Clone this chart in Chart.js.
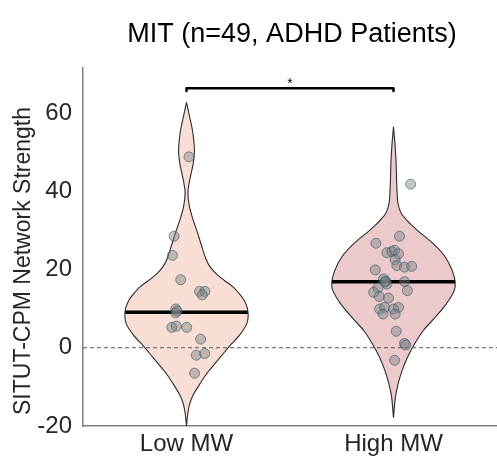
<!DOCTYPE html>
<html>
<head>
<meta charset="utf-8">
<script src="https://cdn.jsdelivr.net/npm/chart.js@4"></script>
<style>
  html, body { margin: 0; padding: 0; background: #ffffff; }
  #wrap { width: 497px; height: 458px; }
</style>
</head>
<body>
<div id="wrap"><canvas id="c" width="497" height="458"></canvas></div>
<script>
// ---------------- DATA ----------------
const categories = ['Low MW', 'High MW'];
const chartTitle = 'MIT (n=49, ADHD Patients)';
const yAxisTitle = 'SITUT-CPM Network Strength';
const yTickValues = [-20, 0, 20, 40, 60];

// individual subject values (y) and horizontal jitter (category units)
const lowValues  = [48.8, 28.5, 23.6, 17.4, 14.4, 14.4, 13.5, 9.9, 8.9, 5.2, 5.5, 5.2, 2.2, -1.9, -1.5, -6.5, 9.4];
const lowJitter  = [0.012, -0.060, -0.068, -0.028, 0.063, 0.089, 0.076, -0.052, -0.052, -0.071, -0.049, 0.001, 0.068, 0.047, 0.088, 0.039, -0.046];
const highValues = [41.8, 28.5, 26.7, 24.3, 24.6, 24.9, 24.0, 22.5, 21.0, 20.6, 20.8, 19.9, 17.6, 17.0, 16.3, 16.9,
                    15.3, 14.6, 14.2, 13.1, 12.7, 9.9, 10.3, 8.6, 9.9, 10.3, 8.6, 4.2, 1.1, 0.7, -3.2, 16.8];
const highJitter = [0.083, 0.029, -0.085, -0.032, -0.008, 0.005, 0.024, 0.008, 0.016, 0.053, 0.088, -0.088, -0.048, -0.037, -0.032, 0.053,
                    -0.075, 0.067, -0.096, -0.069, -0.024, -0.067, -0.043, -0.051, 0.000, 0.024, 0.008, 0.013, 0.053, 0.059, 0.005, -0.041];

// medians
const lowMedian = 9.1;
const highMedian = 16.9;

// violin outlines: levels (y values, top to bottom) and half-widths (category units)
const lowLevels = [62.7, 59.5, 56.1, 52.6, 49.7, 46.7, 43.3, 39.8, 36.4, 33.0, 29.6, 26.2, 22.7, 20.6, 18.9, 17.2, 15.5, 13.8,
                   12.1, 10.3, 8.2, 6.1, 3.5, 0.9, -1.6, -4.2, -6.7, -9.3, -11.9, -14.4, -17.0, -20.0];
const lowHalfWidths = [0, 0.013, 0.027, 0.036, 0.038, 0.031, 0.017, 0.007, 0.013, 0.030, 0.052, 0.072, 0.094, 0.115, 0.144, 0.183, 0.226, 0.255,
                   0.279, 0.293, 0.298, 0.291, 0.260, 0.216, 0.176, 0.135, 0.096, 0.064, 0.034, 0.015, 0.006, 0];
const highLevels = [56.5, 52.2, 47.9, 41.1, 36.8, 34.3, 31.7, 30.0, 26.6, 23.2, 19.7, 16.7, 14.6, 11.2, 7.8, 4.4, 0.9, -2.5, -5.9, -9.3, -12.7, -17.9];
const highHalfWidths = [0, 0.007, 0.012, 0.016, 0.022, 0.038, 0.080, 0.115, 0.192, 0.250, 0.284, 0.298, 0.293, 0.255, 0.202, 0.144, 0.101, 0.067, 0.041, 0.022, 0.009, 0];

// significance bracket
const bracketY = 66.3;
const bracketTickY = 65.6;
const bracketLabel = '*';

// ---------------- BUILD ----------------
function violinPath(center, levels, widths) {
  const pts = [];
  for (let i = 0; i < levels.length; i++) pts.push({x: center + widths[i], y: levels[i]});
  for (let i = levels.length - 1; i >= 0; i--) pts.push({x: center - widths[i], y: levels[i]});
  return pts;
}
function widthAt(levels, widths, v) {
  for (let i = 0; i < levels.length - 1; i++) {
    const a = levels[i], b = levels[i + 1];
    if ((v <= a && v >= b)) {
      const t = (a - v) / (a - b);
      return widths[i] + t * (widths[i + 1] - widths[i]);
    }
  }
  return 0;
}
function pointsFor(center, vals, jit) {
  return vals.map((v, i) => ({x: center + jit[i], y: v}));
}

const lowW = widthAt(lowLevels, lowHalfWidths, lowMedian);
const highW = widthAt(highLevels, highHalfWidths, highMedian);

const pointFill = 'rgba(128,128,128,0.45)';
const pointEdge = 'rgba(40,90,110,0.6)';

const datasets = [
  { // points
    data: pointsFor(1, lowValues, lowJitter).concat(pointsFor(2, highValues, highJitter)),
    showLine: false, pointRadius: 5, pointHoverRadius: 5,
    pointBackgroundColor: pointFill, pointBorderColor: pointEdge, pointBorderWidth: 1,
    order: 0
  },
  { data: [{x: 1 - lowW, y: lowMedian}, {x: 1 + lowW, y: lowMedian}],
    borderColor: '#000', borderWidth: 3.5, pointRadius: 0, fill: false, order: 1 },
  { data: [{x: 2 - highW, y: highMedian}, {x: 2 + highW, y: highMedian}],
    borderColor: '#000', borderWidth: 3.5, pointRadius: 0, fill: false, order: 1 },
  { // zero line
    data: [{x: 0.5, y: 0}, {x: 2.5, y: 0}],
    borderColor: '#555', borderWidth: 1, borderDash: [4, 3], pointRadius: 0, fill: false, order: 2 },
  { // bracket
    data: [{x: 1, y: bracketTickY}, {x: 1, y: bracketY}, {x: 2, y: bracketY}, {x: 2, y: bracketTickY}],
    borderColor: '#000', borderWidth: 2.5, pointRadius: 0, fill: false, order: 3,
    borderJoinStyle: 'round', borderCapStyle: 'round' },
  { // low violin
    data: violinPath(1, lowLevels, lowHalfWidths),
    borderColor: '#2b2b2b', borderWidth: 1.1, backgroundColor: 'rgb(249,222,214)',
    fill: 'shape', tension: 0.3, pointRadius: 0, order: 4 },
  { // high violin
    data: violinPath(2, highLevels, highHalfWidths),
    borderColor: '#2b2b2b', borderWidth: 1.1, backgroundColor: 'rgb(236,201,203)',
    fill: 'shape', tension: 0.3, pointRadius: 0, order: 4 }
];

const FONT = '"Liberation Sans", Arial, Helvetica, sans-serif';

const textPlugin = {
  id: 'texts',
  afterDraw(chart) {
    const ctx = chart.ctx;
    const xs = chart.scales.x, ys = chart.scales.y;
    ctx.save();
    // title
    ctx.fillStyle = '#000';
    ctx.font = '27px ' + FONT;
    ctx.textAlign = 'center';
    ctx.textBaseline = 'alphabetic';
    ctx.fillText(chartTitle, (chart.chartArea.left + chart.chartArea.right) / 2 + 2, 42);
    // y-axis title
    ctx.save();
    ctx.translate(24, 261);
    ctx.rotate(-Math.PI / 2);
    ctx.fillStyle = '#262626';
    ctx.font = '23px ' + FONT;
    ctx.textAlign = 'center';
    ctx.textBaseline = 'middle';
    ctx.fillText(yAxisTitle, 0, 0);
    ctx.restore();
    // significance label
    ctx.fillStyle = '#000';
    ctx.font = '14px ' + FONT;
    ctx.textAlign = 'center';
    ctx.textBaseline = 'alphabetic';
    ctx.fillText(bracketLabel, xs.getPixelForValue(1.5), ys.getPixelForValue(bracketY));
    ctx.restore();
  }
};

new Chart(document.getElementById('c'), {
  type: 'line',
  data: { datasets },
  options: {
    responsive: false,
    devicePixelRatio: 1,
    animation: false,
    events: [],
    layout: { autoPadding: false, padding: { top: 68, left: 0, right: 0, bottom: 0 } },
    plugins: { legend: { display: false }, tooltip: { enabled: false }, title: { display: false } },
    scales: {
      x: {
        type: 'linear', min: 0.5, max: 2.5,
        afterBuildTicks(scale) { scale.ticks = categories.map((c, i) => ({value: i + 1})); },
        afterFit(scale) { scale.height = 32; },
        ticks: {
          callback: (v) => categories[Math.round(v) - 1] || '',
          font: { family: FONT, size: 24 }, color: '#262626', padding: 4, maxRotation: 0, autoSkip: false
        },
        grid: { display: false, drawTicks: false },
        border: { display: true, color: '#7f7f7f', width: 1.5 }
      },
      y: {
        type: 'linear', min: -20, max: 71.5,
        afterBuildTicks(scale) { scale.ticks = yTickValues.map(v => ({value: v})); },
        afterFit(scale) { scale.width = 83; },
        ticks: {
          font: { family: FONT, size: 24 }, color: '#262626', padding: 11
        },
        grid: { display: false, drawTicks: false },
        border: { display: true, color: '#7f7f7f', width: 1.5 }
      }
    }
  },
  plugins: [textPlugin]
});
</script>
</body>
</html>
